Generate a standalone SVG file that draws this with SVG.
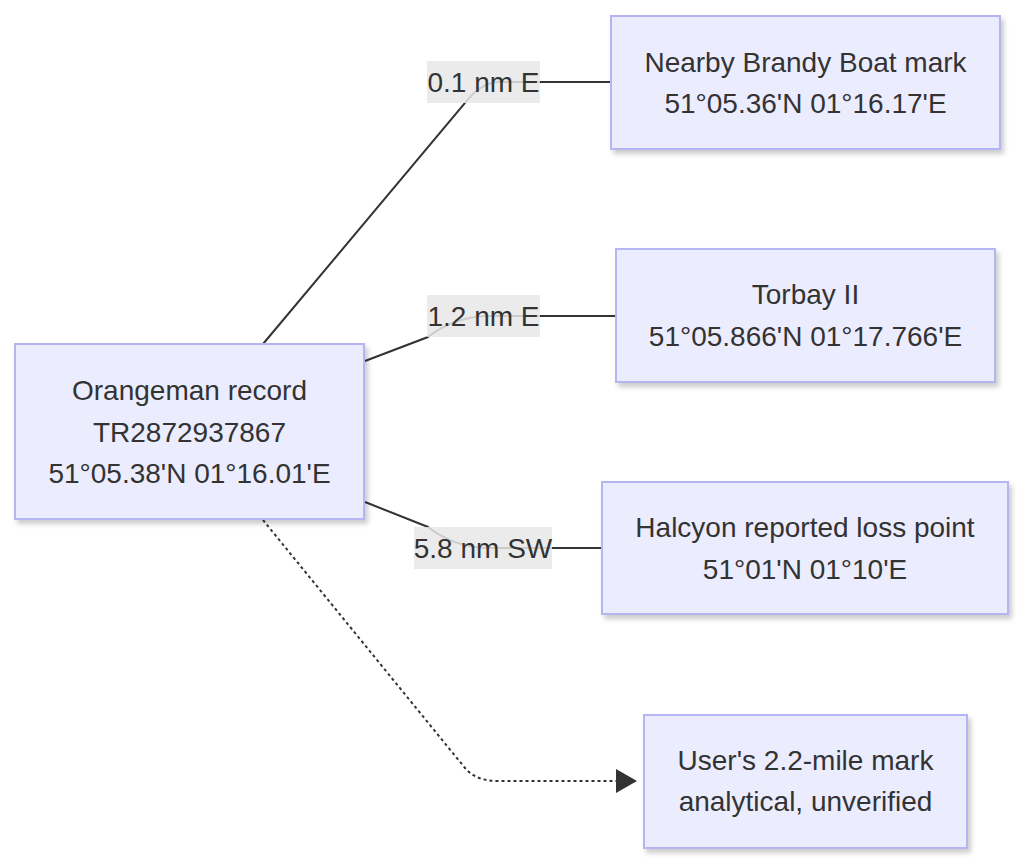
<svg xmlns="http://www.w3.org/2000/svg" width="1024" height="864" viewBox="0 0 1024 864">
<defs>
<style>
.node rect{fill:#ECECFF;stroke:#b5b5f3;stroke-width:2;filter:url(#sh);}
.node text,.lbl text{font-family:"Liberation Sans",Arial,sans-serif;font-size:28px;fill:#333;text-anchor:middle;}
.edge{fill:none;stroke:#333;stroke-width:2;}
.dot{stroke-dasharray:3 3;}
.lbl rect{fill:#e8e8e8;fill-opacity:0.85;}
</style>
<filter id="sh" x="-10%" y="-10%" width="125%" height="130%">
<feDropShadow dx="3" dy="4" stdDeviation="2.5" flood-color="#000" flood-opacity="0.2"/>
</filter>
<marker id="arr" markerWidth="22" markerHeight="24" refX="0" refY="12" orient="auto" markerUnits="userSpaceOnUse">
<path d="M0,0 L21,12 L0,24 Z" fill="#333"/>
</marker>
</defs>
<rect width="1024" height="864" fill="#fff"/>
<g id="connectors">
<path class="edge" d="M263,344 L465,103 Q481,82 500,82 L611,82"/>
<path class="edge" d="M365,361 L428,337 Q455,316 490,316 L616,316"/>
<path class="edge" d="M365,502 L428,527 Q455,548 490,548 L602,548"/>
<path class="edge dot" d="M263,520 L465,768 Q476,781 497,781 L616,781" marker-end="url(#arr)"/>
</g>
<g id="edge-labels">
<g class="lbl" id="label-1"><rect x="427" y="61" width="113" height="42"/><text x="483.5" y="92">0.1 nm E</text></g>
<g class="lbl" id="label-2"><rect x="427" y="295" width="113" height="42"/><text x="483.5" y="326">1.2 nm E</text></g>
<g class="lbl" id="label-3"><rect x="414" y="527" width="138" height="42"/><text x="483" y="558">5.8 nm SW</text></g>
</g>
<g class="node" id="orangeman">
<rect x="15" y="344" width="349" height="175"/>
<text x="189.5" y="400">Orangeman record</text>
<text x="189.5" y="441.5">TR2872937867</text>
<text x="189.5" y="483">51°05.38'N 01°16.01'E</text>
</g>
<g class="node" id="brandy">
<rect x="611" y="16" width="389" height="133"/>
<text x="805.5" y="71.5">Nearby Brandy Boat mark</text>
<text x="805.5" y="113">51°05.36'N 01°16.17'E</text>
</g>
<g class="node" id="torbay">
<rect x="616" y="249" width="379" height="133"/>
<text x="805.5" y="304">Torbay II</text>
<text x="805.5" y="345.5">51°05.866'N 01°17.766'E</text>
</g>
<g class="node" id="halcyon">
<rect x="602" y="482" width="406" height="132"/>
<text x="805" y="537">Halcyon reported loss point</text>
<text x="805" y="578.5">51°01'N 01°10'E</text>
</g>
<g class="node" id="user">
<rect x="644" y="715" width="323" height="133"/>
<text x="805.5" y="769.5">User's 2.2-mile mark</text>
<text x="805.5" y="811">analytical, unverified</text>
</g>
</svg>
